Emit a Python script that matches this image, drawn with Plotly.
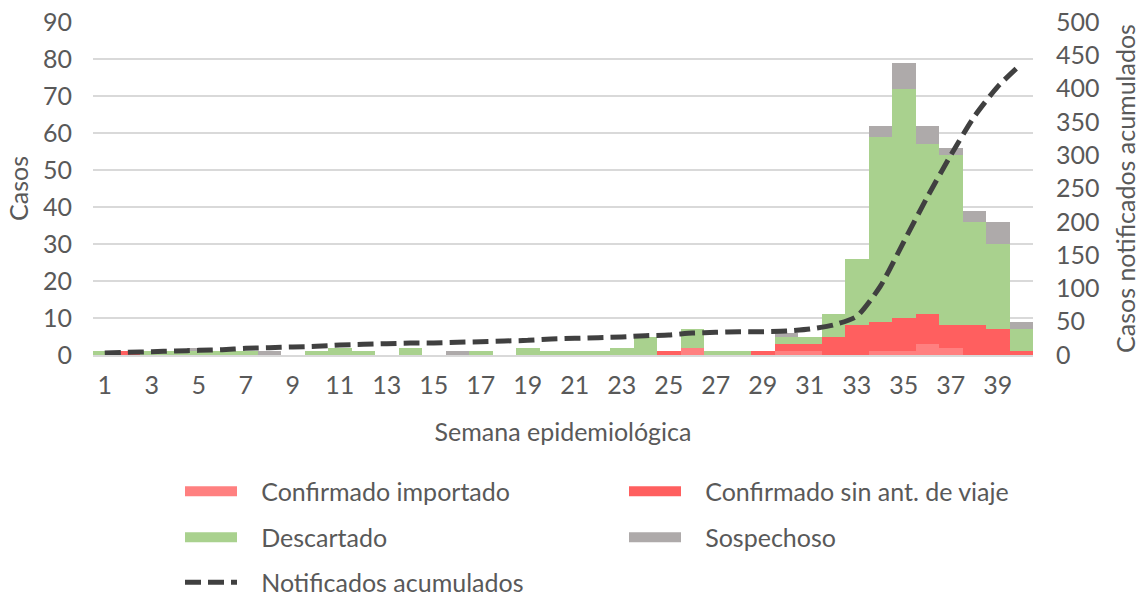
import plotly.graph_objects as go

weeks = list(range(1, 41))
tick_weeks = list(range(1, 40, 2))

confirmado_importado = [0, 0, 0, 0, 0, 0, 0, 0, 0, 0,
                        0, 0, 0, 0, 0, 0, 0, 0, 0, 0,
                        0, 0, 0, 0, 0, 2, 0, 0, 0, 1,
                        1, 0, 0, 1, 1, 3, 2, 0, 0, 0]
confirmado_sin_ant = [0, 1, 0, 0, 0, 0, 0, 0, 0, 0,
                      0, 0, 0, 0, 0, 0, 0, 0, 0, 0,
                      0, 0, 0, 0, 1, 0, 0, 0, 1, 2,
                      2, 5, 8, 8, 9, 8, 6, 8, 7, 1]
descartado = [1, 0, 1, 1, 1, 1, 1, 0, 0, 1,
              2, 1, 0, 2, 0, 0, 1, 0, 2, 1,
              1, 1, 2, 5, 0, 5, 1, 1, 0, 2,
              2, 6, 18, 50, 62, 46, 46, 28, 23, 6]
sospechoso = [0, 0, 0, 0, 1, 0, 0, 1, 0, 0,
              0, 0, 0, 0, 0, 1, 0, 0, 0, 0,
              0, 0, 0, 0, 0, 0, 0, 0, 0, 1,
              0, 0, 0, 3, 7, 5, 2, 3, 6, 2]
notificados_acumulados = [3, 4, 5, 6, 7, 8, 10, 11, 12, 13,
                          15, 16, 17, 18, 18, 19, 20, 21, 22, 24,
                          25, 26, 27, 29, 30, 33, 34, 35, 35, 36,
                          39, 45, 58, 103, 170, 237, 300, 358, 403, 437]

FONT = "Lato"
TXT = "#595959"
FS = 25
PAD = "\u00a0\u00a0\u00a0"

W, H = 1141, 596
L, R, T, B = 93, 1033, 22, 355.3


def px_x(p):
    return (p - L) / (R - L)


def px_y(p):
    return (B - p) / (B - T)


fig = go.Figure()
bar_specs = [
    ("Confirmado importado", confirmado_importado, "#FF8080", "legend", 193, 492),
    ("Confirmado sin ant. de viaje", confirmado_sin_ant, "#FF5F5F", "legend2", 637, 492),
    ("Descartado", descartado, "#A9D18E", "legend3", 193, 538),
    ("Sospechoso", sospechoso, "#AEAAAA", "legend4", 637, 538),
]
legends = {}
leg_common = dict(orientation="v", xanchor="left", yanchor="middle",
                  font=dict(family=FONT, size=FS, color=TXT),
                  itemwidth=52, itemsizing="trace", bgcolor="rgba(0,0,0,0)", borderwidth=0)

for name, vals, col, lg, lx, ly in bar_specs:
    fig.add_trace(go.Bar(x=weeks, y=vals, name=name, marker=dict(color=col, line=dict(width=0)),
                         showlegend=False, legendgroup=name))
    # legend swatch (wide rectangle like the reference)
    fig.add_trace(go.Scatter(x=[None], y=[None], mode="lines", name=PAD + name, legendgroup=name,
                             line=dict(color=col, width=18), legend=lg, hoverinfo="skip"))
    legends[lg] = dict(x=px_x(lx - 13), y=px_y(ly), **leg_common)

fig.add_trace(go.Scatter(x=weeks, y=notificados_acumulados, name=PAD + "Notificados acumulados",
                         mode="lines", yaxis="y2", legend="legend5",
                         line=dict(color="#404040", width=5, dash="16px,7px", shape="spline", smoothing=0.6)))
legends["legend5"] = dict(x=px_x(193 - 13), y=px_y(583), **leg_common)

fig.update_layout(
    width=W, height=H,
    margin=dict(l=L, r=W - R, t=T, b=H - B, pad=0, autoexpand=False),
    plot_bgcolor="white", paper_bgcolor="white",
    barmode="stack", bargap=0,
    font=dict(family=FONT, size=FS, color=TXT),
    xaxis=dict(range=[0.5, 40.5], tickmode="array", tickvals=tick_weeks, automargin=False,
               ticktext=[str(w) for w in tick_weeks], showgrid=False,
               showline=True, linecolor="#D9D9D9", linewidth=1.5, ticks="", ticklabelstandoff=7,
               title=dict(text="Semana epidemiológica", font=dict(family=FONT, size=FS, color=TXT), standoff=26),
               tickfont=dict(family=FONT, size=FS, color=TXT)),
    yaxis=dict(range=[0, 90], dtick=10, showgrid=True, gridcolor="#D9D9D9", gridwidth=1.5, automargin=False,
               zeroline=False, ticks="", ticklabelstandoff=20,
               title=dict(text="Casos", font=dict(family=FONT, size=FS, color=TXT), standoff=7),
               tickfont=dict(family=FONT, size=FS, color=TXT)),
    yaxis2=dict(range=[0, 500], dtick=50, overlaying="y", side="right", showgrid=False, automargin=False,
                zeroline=False, ticks="", ticklabelstandoff=22,
                title=dict(text="Casos notificados acumulados", font=dict(family=FONT, size=FS, color=TXT), standoff=18),
                tickfont=dict(family=FONT, size=FS, color=TXT)),
    showlegend=True,
    **legends,
)

fig.write_html("out.html", config={"displayModeBar": False},
               post_script="document.body.style.margin='0px';document.body.style.overflow='hidden';")
